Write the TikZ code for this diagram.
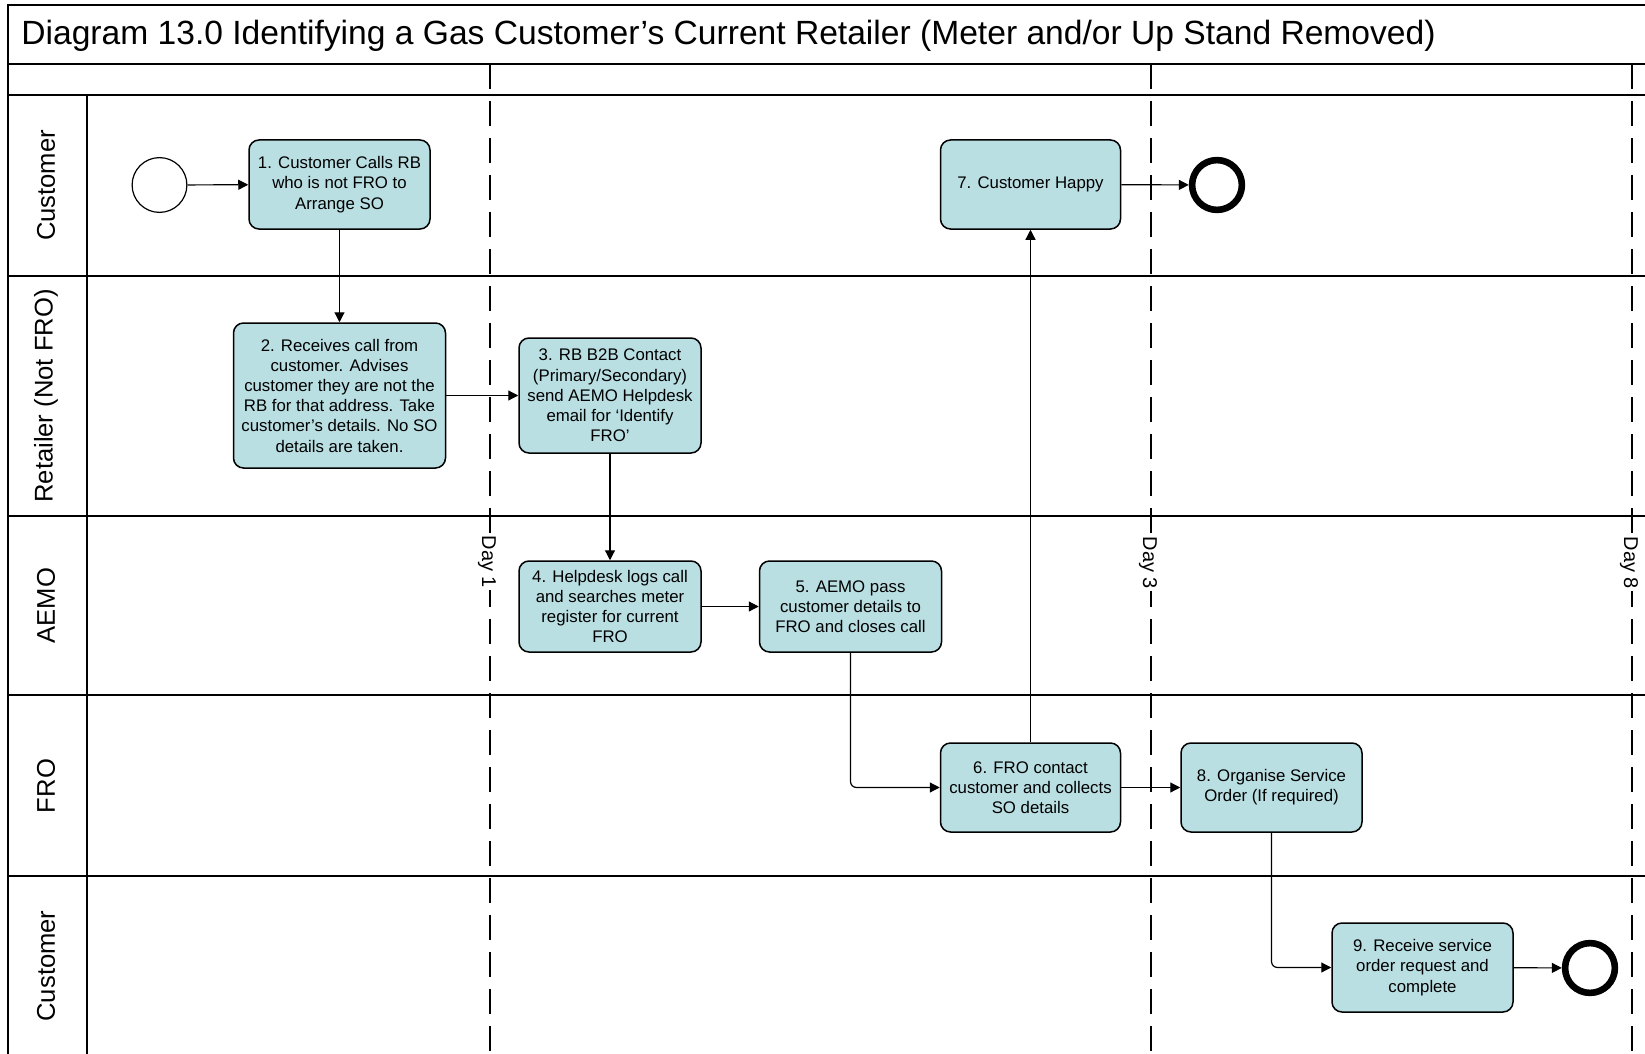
\documentclass[tikz,border=0pt]{standalone}
\usepackage{fontspec}
\setmainfont{Liberation Sans}
\usetikzlibrary{arrows.meta}
\definecolor{boxfill}{RGB}{185,223,227}
\begin{document}
\begin{tikzpicture}[x=0.5pt,y=-0.5pt,
  frame/.style={line width=1pt},
  procbox/.style={draw, line width=0.75pt, fill=boxfill, rounded corners=5pt, align=center,
    font=\fontsize{8.4}{10.1}\selectfont, inner sep=2pt},
  arr/.style={-{Triangle[length=5pt,width=5pt]}, line width=0.6pt, rounded corners=3pt},
  lanelabel/.style={rotate=90, font=\fontsize{12.8}{15}\selectfont, inner sep=0pt},
  dayline/.style={line width=0.6pt, dash pattern=on 12.5pt off 6pt},
  daylabel/.style={rotate=-90, fill=white, inner sep=1pt, font=\fontsize{10}{12}\selectfont},
  startev/.style={draw, circle, line width=0.6pt, minimum size=27.4pt, inner sep=0pt},
  endev/.style={draw, circle, line width=3.3pt, minimum size=24.9pt, inner sep=0pt}]
\useasboundingbox (0,0) rectangle (1645,1054);

% frame and lanes
\draw[frame] (1645,5) -- (8,5) -- (8,1054);
\draw[frame] (8,64) -- (1645,64);
\draw[frame] (8,95) -- (1645,95);
\draw[frame] (8,276) -- (1645,276);
\draw[frame] (8,516) -- (1645,516);
\draw[frame] (8,695) -- (1645,695);
\draw[frame] (8,876) -- (1645,876);
\draw[line width=0.8pt] (87,95) -- (87,1054);

\node[anchor=west, inner sep=0pt, font=\fontsize{16.8}{20}\selectfont] (title) at (21,36)
  {Diagram 13.0 Identifying a Gas Customer’s Current Retailer (Meter and/or Up Stand Removed)};

% lane labels
\node[lanelabel] (l1) at (46,185.5) {Customer};
\node[lanelabel] (l2) at (46,396) {Retailer (Not FRO)};
\node[lanelabel] (l3) at (46,605.5) {AEMO};
\node[lanelabel] (l4) at (46,786) {FRO};
\node[lanelabel] (l5) at (46,966) {Customer};

% day lines
\draw[dayline] (490,64) -- (490,1054);
\draw[dayline] (1151,64) -- (1151,1054);
\draw[dayline] (1632,64) -- (1632,1054);
\node[daylabel] (d1) at (487,562) {Day 1};
\node[daylabel] (d3) at (1148,563) {Day 3};
\node[daylabel] (d8) at (1629,563) {Day 8};

% events and tasks
\node[startev] (start) at (159.5,185) {};
\node[procbox, minimum width=90.5pt, minimum height=44.5pt] (b1) at (339.5,184.5)
  {1. Customer Calls RB\\who is not FRO to\\Arrange SO};
\node[procbox, minimum width=106pt, minimum height=72.5pt] (b2) at (339.5,395.5)
  {2. Receives call from\\customer. Advises\\customer they are not the\\RB for that address. Take\\customer’s details. No SO\\details are taken.};
\node[procbox, minimum width=91pt, minimum height=57.5pt] (b3) at (610,395.5)
  {3. RB B2B Contact\\(Primary/Secondary)\\send AEMO Helpdesk\\email for ‘Identify\\FRO’};
\node[procbox, minimum width=91pt, minimum height=45.5pt] (b4) at (610,606.5)
  {4. Helpdesk logs call\\and searches meter\\register for current\\FRO};
\node[procbox, minimum width=91pt, minimum height=45.5pt] (b5) at (850.5,606.5)
  {5. AEMO pass\\customer details to\\FRO and closes call};
\node[procbox, minimum width=90pt, minimum height=44.5pt] (b6) at (1030.5,787.5)
  {6. FRO contact\\customer and collects\\SO details};
\node[procbox, minimum width=90pt, minimum height=44.5pt] (b7) at (1030.5,184.5)
  {7. Customer Happy};
\node[procbox, minimum width=90.5pt, minimum height=44.5pt] (b8) at (1271.5,787.5)
  {8. Organise Service\\Order (If required)};
\node[procbox, minimum width=90.5pt, minimum height=44.5pt] (b9) at (1422.5,967.5)
  {9. Receive service\\order request and\\complete};
\node[endev] (end1) at (1217,185) {};
\node[endev] (end2) at (1590,968) {};

% connectors
\draw[arr] (start) -- (b1);
\draw[arr] (b1) -- (b2);
\draw[arr] (b2) -- (b3);
\draw[arr] (b3) -- (b4);
\draw[arr] (b4) -- (b5);
\draw[arr] (b5.south) |- (b6.west);
\draw[arr] (b6) -- (b7);
\draw[arr] (b7) -- (end1);
\draw[arr] (b6) -- (b8);
\draw[arr] (b8.south) |- (b9.west);
\draw[arr] (b9) -- (end2);
\end{tikzpicture}
\end{document}
